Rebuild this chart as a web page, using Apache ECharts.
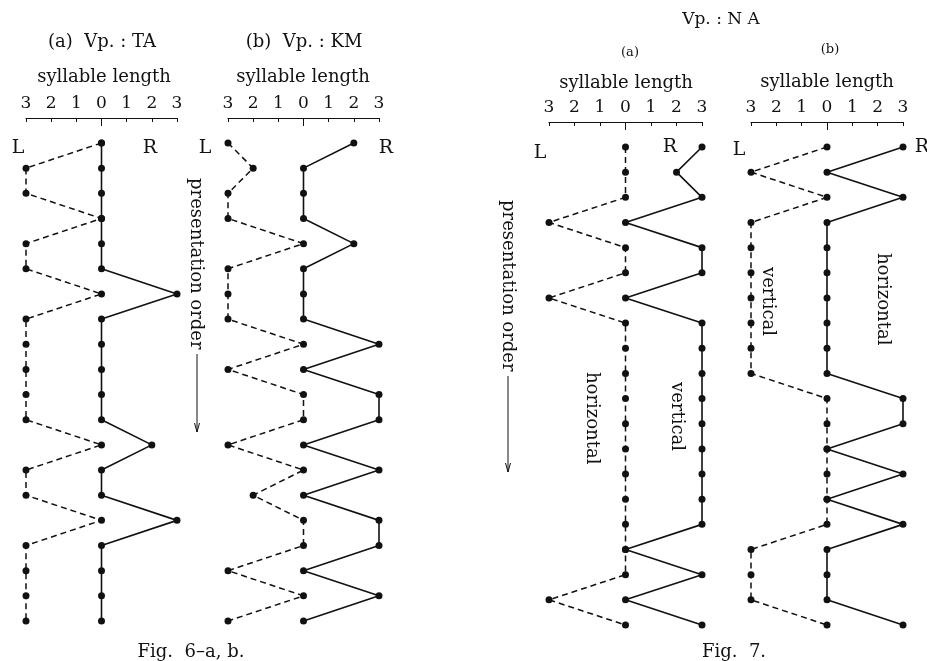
<!DOCTYPE html>
<html>
<head>
<meta charset="utf-8">
<script src="https://cdn.jsdelivr.net/npm/echarts@6/dist/echarts.min.js"></script>
<style>
html,body{margin:0;padding:0;background:#fff;}
#c{width:927px;height:661px;}
</style>
</head>
<body>
<div id="c"></div>
<script>
// syllable length per presentation step (row 0 = first presentation)
const tickValues = [-3,-2,-1,0,1,2,3];
const taL  = [0,3,3,0,3,3,0,3,3,3,3,3,0,3,3,0,3,3,3,3];
const taR  = [0,0,0,0,0,0,3,0,0,0,0,0,2,0,0,3,0,0,0,0];
const kmL  = [3,2,3,3,0,3,3,3,0,3,0,0,3,0,2,0,0,3,0,3];
const kmR  = [2,0,0,0,2,0,0,0,3,0,3,3,0,3,0,3,3,0,3,0];
const naAL = [0,0,0,3,0,0,3,0,0,0,0,0,0,0,0,0,0,0,3,0];
const naAR = [3,2,3,0,3,3,0,3,3,3,3,3,3,3,3,3,0,3,0,3];
const naBL = [0,3,0,3,3,3,3,3,3,3,0,0,0,0,0,0,3,3,3,0];
const naBR = [3,0,3,0,0,0,0,0,0,0,3,3,0,3,0,3,0,0,0,3];

const FONT = 'DejaVu Serif';
const INK = '#111';

const panels = [
  {L: taL,  R: taR,  grid: {left: 26,  top: 143, width: 151, height: 478}},
  {L: kmL,  R: kmR,  grid: {left: 228, top: 143, width: 151, height: 478}},
  {L: naAL, R: naAR, grid: {left: 549, top: 147, width: 153, height: 478}},
  {L: naBL, R: naBR, grid: {left: 751, top: 147, width: 152, height: 478}}
];

const grid = [], xAxis = [], yAxis = [], series = [];
panels.forEach((p, k) => {
  grid.push(p.grid);
  const base = xAxis.length;
  // visible top axis
  xAxis.push({
    type: 'value', gridIndex: k, position: 'top', offset: 25,
    min: -3, max: 3, interval: 1,
    axisLine: {show: true, onZero: false, lineStyle: {color: INK, width: 1.2}},
    axisTick: {show: true, inside: true, length: 4, lineStyle: {color: INK}},
    axisLabel: {show: true, margin: 6, color: INK, fontFamily: FONT, fontSize: 17,
      formatter: v => String(Math.abs(v))},
    splitLine: {show: false}
  });
  // longer tick at 0
  xAxis.push({
    type: 'value', gridIndex: k, position: 'top', offset: 25,
    min: -3, max: 3,
    axisLine: {show: false, onZero: false},
    axisTick: {show: true, inside: true, length: 8, customValues: [0], lineStyle: {color: INK}},
    axisLabel: {show: false},
    splitLine: {show: false}
  });
  // hidden reversed axis for left-side (L) lengths
  xAxis.push({
    type: 'value', gridIndex: k, show: false, inverse: true, position: 'top',
    axisLine: {onZero: false},
    min: -3, max: 3, splitLine: {show: false}
  });
  yAxis.push({type: 'value', gridIndex: k, show: false, inverse: true, min: 0, max: 19,
    axisLine: {onZero: false}});
  series.push({
    type: 'line', xAxisIndex: base + 2, yAxisIndex: k,
    data: p.L.map((v, i) => [v, i]),
    symbol: 'circle', symbolSize: 7, clip: false, animation: false,
    itemStyle: {color: INK},
    lineStyle: {color: INK, width: 1.5, type: [6, 4]}
  });
  series.push({
    type: 'line', xAxisIndex: base, yAxisIndex: k,
    data: p.R.map((v, i) => [v, i]),
    symbol: 'circle', symbolSize: 7, clip: false, animation: false,
    itemStyle: {color: INK},
    lineStyle: {color: INK, width: 1.6, type: 'solid'}
  });
});

function txt(x, y, text, size, opts) {
  opts = opts || {};
  return {
    type: 'text', x: x, y: y, rotation: opts.rot || 0, silent: true,
    style: {text: text, fill: INK, font: (opts.weight || 'normal') + ' ' + size + 'px "' + FONT + '"',
      textAlign: opts.align || 'center', textVerticalAlign: 'middle'}
  };
}
function arrow(x, y1, y2) {
  return [
    {type: 'line', silent: true, shape: {x1: x, y1: y1, x2: x, y2: y2}, style: {stroke: INK, lineWidth: 1}},
    {type: 'polyline', silent: true, shape: {points: [[x - 2.5, y2 - 9], [x, y2], [x + 2.5, y2 - 9]]},
      style: {stroke: INK, lineWidth: 1, fill: null}}
  ];
}
const ROT = -Math.PI / 2;
const graphic = [
  txt(102, 42, '(a)  Vp. : TA', 18),
  txt(304, 42, '(b)  Vp. : KM', 18),
  txt(104, 77, 'syllable length', 18),
  txt(303, 77, 'syllable length', 18),
  txt(721, 20, 'Vp. : N A', 17),
  txt(630, 53, '(a)', 13),
  txt(830, 50, '(b)', 13),
  txt(626, 83, 'syllable length', 18),
  txt(827, 82, 'syllable length', 18),
  txt(18, 148, 'L', 19), txt(150, 148, 'R', 19),
  txt(205, 148, 'L', 19), txt(386, 148, 'R', 19),
  txt(540, 153, 'L', 19), txt(670, 147, 'R', 19),
  txt(739, 150, 'L', 19), txt(922, 147, 'R', 19),
  txt(196, 178, 'presentation order', 18, {rot: ROT, align: 'left'}),
  txt(508, 200, 'presentation order', 18, {rot: ROT, align: 'left'}),
  txt(592, 372, 'horizontal', 18, {rot: ROT, align: 'left'}),
  txt(677, 382, 'vertical', 18, {rot: ROT, align: 'left'}),
  txt(768, 267, 'vertical', 18, {rot: ROT, align: 'left'}),
  txt(883, 253, 'horizontal', 18, {rot: ROT, align: 'left'}),
  txt(191, 652, 'Fig.  6\u2013a, b.', 18),
  txt(734, 652, 'Fig.  7.', 18)
].concat(arrow(197, 354, 432)).concat(arrow(508, 376, 472));

const chart = echarts.init(document.getElementById('c'), null, {renderer: 'canvas'});
chart.setOption({
  backgroundColor: '#fff',
  animation: false,
  grid: grid, xAxis: xAxis, yAxis: yAxis, series: series,
  graphic: graphic
});
</script>
</body>
</html>
